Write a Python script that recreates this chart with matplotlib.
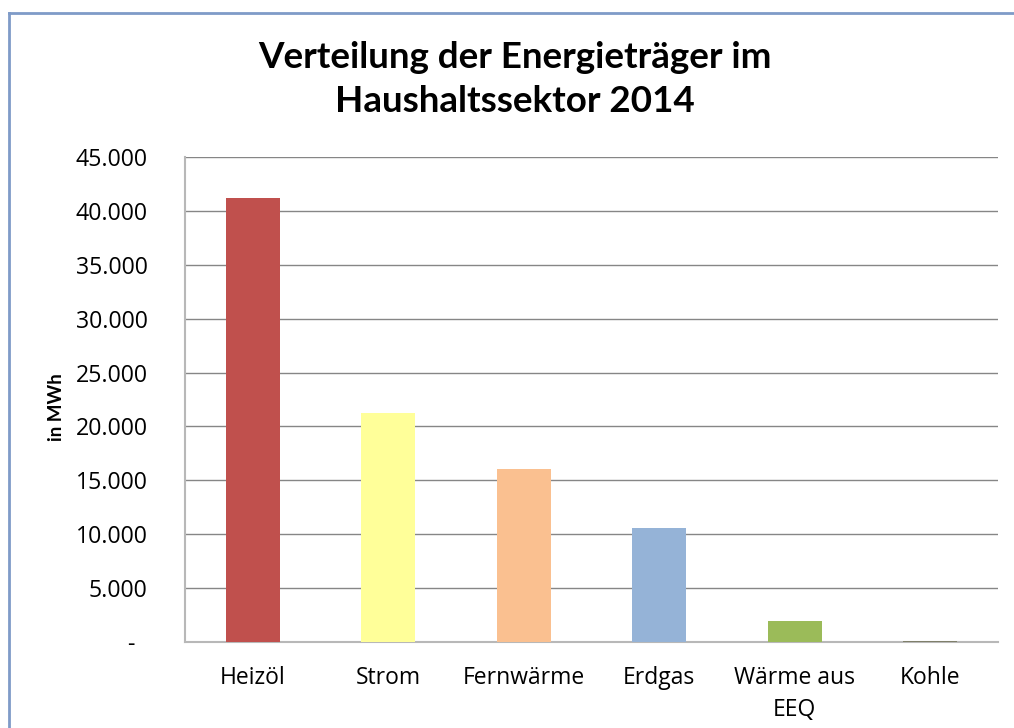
import matplotlib.pyplot as plt
from matplotlib.lines import Line2D
from matplotlib.ticker import FuncFormatter

# Daten
kategorien = ["Heizöl", "Strom", "Fernwärme", "Erdgas", "Wärme aus\nEEQ", "Kohle"]
werte_mwh = [41200, 21250, 16050, 10600, 1950, 120]
farben = ["#c0504d", "#ffff99", "#fac090", "#95b3d7", "#9bbb59", "#7f7f6a"]
y_ticks = [0, 5000, 10000, 15000, 20000, 25000, 30000, 35000, 40000, 45000]

plt.rcParams['font.family'] = ['Lato', 'DejaVu Sans']
tick_font = ['Open Sans', 'DejaVu Sans']

W, H = 1014, 728
fig = plt.figure(figsize=(W / 100, H / 100), dpi=100)
ax = fig.add_axes([185 / W, 1 - 642 / H, (998 - 185) / W, (642 - 157) / H])

ax.bar(range(len(kategorien)), werte_mwh, width=0.4, color=farben, zorder=3)

ax.set_xlim(-0.5, len(kategorien) - 0.5)
ax.set_ylim(0, 45000)
ax.set_yticks(y_ticks)


def fmt(v, pos):
    # Buchhaltungsformat: Null als Strich
    if v == 0:
        return "-  "
    return f"{int(v):,}".replace(",", ".")


ax.yaxis.set_major_formatter(FuncFormatter(fmt))
ax.yaxis.grid(True, color="#868686", linewidth=1, zorder=0)
ax.tick_params(axis="y", length=0, pad=27)
ax.tick_params(axis="x", length=0, pad=17)
ax.set_xticks(range(len(kategorien)))
ax.set_xticklabels(kategorien, linespacing=1.45, va="top")
for lbl in ax.get_yticklabels():
    lbl.set_family(tick_font)
    lbl.set_fontsize(16.7)
for lbl in ax.get_xticklabels():
    lbl.set_family(tick_font)
    lbl.set_fontsize(16.5)

for s in ["top", "right"]:
    ax.spines[s].set_visible(False)
ax.spines["left"].set_color("#b8b8b8")
ax.spines["bottom"].set_color("#b8b8b8")
ax.spines["left"].set_linewidth(1.5)
ax.spines["bottom"].set_linewidth(1.5)

fig.text(57 / W, 1 - 407 / H, "in MWh", rotation=90, ha="center", va="center",
         fontsize=13.5, fontweight="bold")

fig.text(515 / W, 1 - 57 / H, "Verteilung der Energieträger im", ha="center",
         va="center", fontsize=26.5, fontweight="bold")
fig.text(515 / W, 1 - 102 / H, "Haushaltssektor 2014", ha="center",
         va="center", fontsize=26.5, fontweight="bold")

# Rahmen des Diagrammbereichs (nur links/oben sichtbar)
fig.add_artist(Line2D([9 / W, 9 / W], [0, 1 - 13 / H], color="#7f9bc8", linewidth=2))
fig.add_artist(Line2D([9 / W, 1], [1 - 13 / H, 1 - 13 / H], color="#7f9bc8", linewidth=2))

fig.savefig("out.png", dpi=100)
